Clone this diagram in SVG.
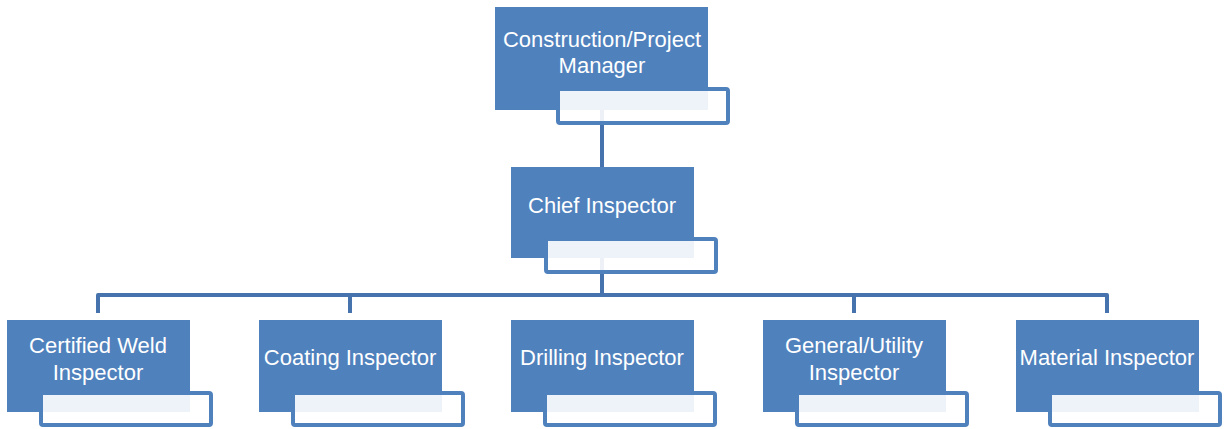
<svg xmlns="http://www.w3.org/2000/svg" width="1225" height="429" viewBox="0 0 1225 429">
<style>
.main{fill:#4F81BD;}
.sub{fill:#FFFFFF;fill-opacity:0.9;stroke:#4F81BD;stroke-width:4;}
.lbl{font-family:"Liberation Sans",Arial,sans-serif;font-size:22px;fill:#FFFFFF;text-anchor:middle;}
.conn{fill:none;stroke:#4673AE;stroke-width:4;stroke-linejoin:round;stroke-linecap:butt;}
</style>
<rect width="1225" height="429" fill="#FFFFFF"/>
<g id="connectors">
<path class="conn" d="M602,110 V167"/>
<path class="conn" d="M602,258 V295"/>
<path class="conn" d="M98,313 V295 H1107 V313"/>
<path class="conn" d="M350,295 V313"/>
<path class="conn" d="M854,295 V313"/>
</g>
<g id="node-manager">
<rect class="main" x="495" y="7" width="213" height="103"/>
<rect class="sub" x="558" y="89" width="170" height="34" rx="2"/>
<text class="lbl" x="602" y="47">Construction/Project</text>
<text class="lbl" x="602" y="73">Manager</text>
</g>
<g id="node-chief">
<rect class="main" x="511" y="167" width="183" height="91"/>
<rect class="sub" x="546" y="239" width="170" height="33" rx="2"/>
<text class="lbl" x="602" y="213">Chief Inspector</text>
</g>
<g id="node-weld">
<rect class="main" x="7" y="320" width="183" height="92"/>
<rect class="sub" x="41" y="393" width="170" height="32" rx="2"/>
<text class="lbl" x="98" y="353">Certified Weld</text>
<text class="lbl" x="98" y="380">Inspector</text>
</g>
<g id="node-coating">
<rect class="main" x="259" y="320" width="183" height="92"/>
<rect class="sub" x="293" y="393" width="170" height="32" rx="2"/>
<text class="lbl" x="350" y="365">Coating Inspector</text>
</g>
<g id="node-drilling">
<rect class="main" x="511" y="320" width="183" height="92"/>
<rect class="sub" x="545" y="393" width="170" height="32" rx="2"/>
<text class="lbl" x="602" y="365">Drilling Inspector</text>
</g>
<g id="node-general">
<rect class="main" x="763" y="320" width="183" height="92"/>
<rect class="sub" x="797" y="393" width="170" height="32" rx="2"/>
<text class="lbl" x="854" y="353">General/Utility</text>
<text class="lbl" x="854" y="380">Inspector</text>
</g>
<g id="node-material">
<rect class="main" x="1016" y="320" width="183" height="92"/>
<rect class="sub" x="1050" y="393" width="170" height="32" rx="2"/>
<text class="lbl" x="1107" y="365">Material Inspector</text>
</g>
</svg>
